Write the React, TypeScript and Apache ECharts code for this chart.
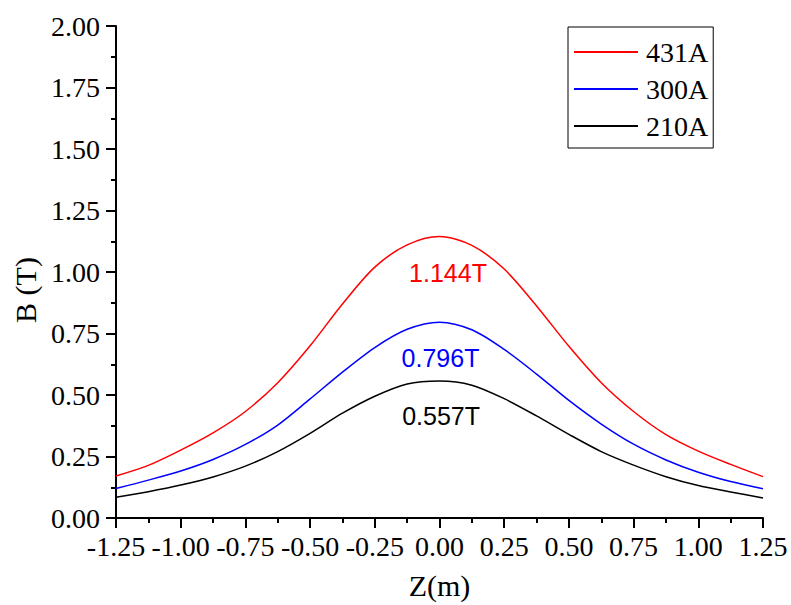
import React, { useEffect, useRef } from "react";
import * as echarts from "echarts";

const zValues = [
  -1.25, -1.125, -1.0, -0.875, -0.75, -0.625, -0.5, -0.375, -0.25, -0.125, 0,
  0.125, 0.25, 0.375, 0.5, 0.625, 0.75, 0.875, 1.0, 1.125, 1.25,
];
const b431 = [
  0.171, 0.214, 0.276, 0.346, 0.433, 0.55, 0.7, 0.87, 1.02, 1.11, 1.144,
  1.108, 1.012, 0.862, 0.698, 0.55, 0.433, 0.339, 0.272, 0.218, 0.168,
];
const b300 = [
  0.12, 0.154, 0.191, 0.238, 0.299, 0.378, 0.484, 0.593, 0.693, 0.767, 0.796,
  0.765, 0.685, 0.585, 0.478, 0.382, 0.3, 0.236, 0.186, 0.148, 0.119,
];
const b210 = [
  0.084, 0.107, 0.134, 0.167, 0.211, 0.27, 0.344, 0.426, 0.495, 0.545, 0.557,
  0.54, 0.485, 0.415, 0.34, 0.27, 0.215, 0.168, 0.132, 0.106, 0.081,
];
const seriesNames = ["431A", "300A", "210A"];
const seriesColors = ["#ff0000", "#0000ff", "#000000"];
const peakLabels = ["1.144T", "0.796T", "0.557T"];
const peakLabelPos = [
  [0.033, 0.994],
  [0.004, 0.652],
  [0.006, 0.413],
];

const serif = "'Liberation Serif', 'Times New Roman', serif";
const sans = "'Liberation Sans', Arial, sans-serif";

export default function App() {
  const ref = useRef<HTMLDivElement>(null);
  useEffect(() => {
    if (!ref.current) return;
    const chart = echarts.init(ref.current, null, { renderer: "svg" });
    const all = [b431, b300, b210];
    const axisStyle = { lineStyle: { color: "#000", width: 2 } };
    chart.setOption({
      animation: false,
      backgroundColor: "#fff",
      grid: { left: 116, right: 28, top: 26, bottom: 82.5, containLabel: false },
      legend: {
        orient: "vertical",
        left: 568,
        top: 27,
        padding: [11, 5, 8, 6],
        itemGap: 9,
        itemWidth: 64,
        itemHeight: 2,
        icon: "rect",
        borderColor: "#000",
        borderWidth: 1,
        textStyle: {
          fontFamily: serif,
          fontSize: 28,
          lineHeight: 27,
          color: "#000",
          padding: [0, 0, 0, 3],
        },
        data: seriesNames,
      },
      xAxis: {
        type: "value",
        min: -1.25,
        max: 1.25,
        interval: 0.25,
        name: "Z(m)",
        nameLocation: "middle",
        nameGap: 52,
        nameTextStyle: { fontFamily: serif, fontSize: 30, color: "#000" },
        axisLine: { show: true, onZero: false, ...axisStyle },
        axisTick: { show: true, inside: false, length: 10, lineStyle: { color: "#000", width: 2 } },
        minorTick: { show: true, splitNumber: 2, length: 5, lineStyle: { color: "#000", width: 2 } },
        splitLine: { show: false },
        axisLabel: {
          fontFamily: serif,
          fontSize: 28,
          color: "#000",
          margin: 14,
          formatter: (v: number) => v.toFixed(2),
        },
      },
      yAxis: {
        type: "value",
        min: 0,
        max: 2,
        interval: 0.25,
        name: "B (T)",
        nameLocation: "middle",
        nameGap: 73,
        nameTextStyle: { fontFamily: serif, fontSize: 30, color: "#000", padding: [0, 36, 0, 0] },
        axisLine: { show: true, onZero: false, ...axisStyle },
        axisTick: { show: true, inside: false, length: 10, lineStyle: { color: "#000", width: 2 } },
        minorTick: { show: true, splitNumber: 2, length: 5, lineStyle: { color: "#000", width: 2 } },
        splitLine: { show: false },
        axisLabel: {
          fontFamily: serif,
          fontSize: 28,
          color: "#000",
          margin: 16,
          formatter: (v: number) => v.toFixed(2),
        },
      },
      series: seriesNames.map((name, i) => ({
        name,
        type: "line",
        data: zValues.map((z, j) => [z, all[i][j]]),
        symbol: "none",
        smooth: 0.3,
        lineStyle: { color: seriesColors[i], width: 1.5 },
        itemStyle: { color: seriesColors[i] },
        markPoint: {
          symbol: "circle",
          symbolSize: 0,
          label: {
            show: true,
            position: "inside",
            formatter: peakLabels[i],
            fontFamily: sans,
            fontSize: 25,
            color: seriesColors[i],
          },
          data: [{ coord: peakLabelPos[i] }],
        },
      })),
    });
    return () => chart.dispose();
  }, []);
  return (
    <div
      ref={ref}
      style={{ position: "fixed", left: 0, top: 0, width: 791, height: 605 }}
    />
  );
}
